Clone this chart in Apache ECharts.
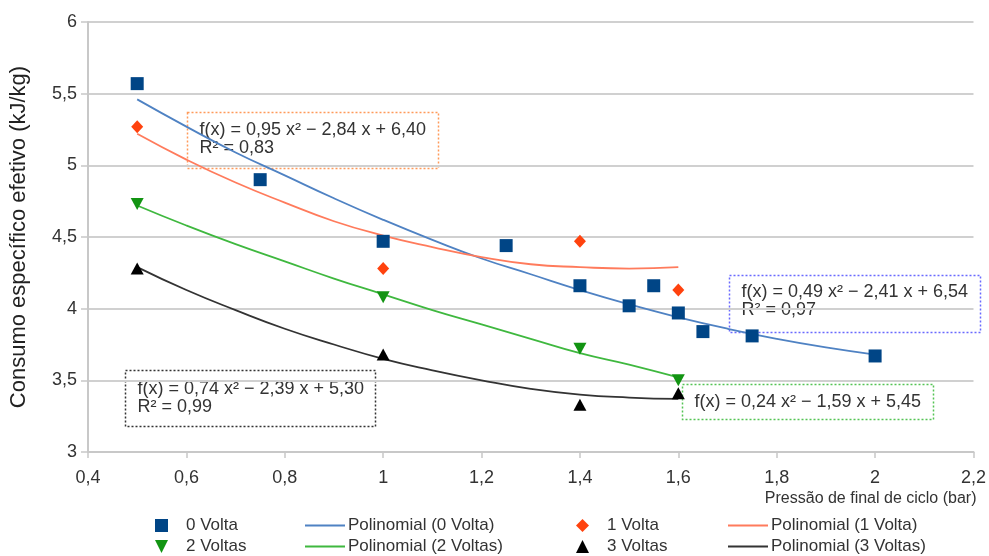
<!DOCTYPE html>
<html>
<head>
<meta charset="utf-8">
<script src="https://cdn.jsdelivr.net/npm/echarts@6/dist/echarts.min.js"></script>
<style>
html,body{margin:0;padding:0;background:#fff;}
#chart{width:989px;height:556px;}
</style>
</head>
<body>
<div id="chart"></div>
<script>
// Measured points (x = Pressão de final de ciclo, y = consumo)
const volta0 = [[0.5,5.57],[0.75,4.90],[1.0,4.47],[1.25,4.44],[1.4,4.16],[1.5,4.02],[1.55,4.16],[1.6,3.97],[1.65,3.84],[1.75,3.81],[2.0,3.67]];
const volta1 = [[0.5,5.27],[1.0,4.28],[1.4,4.47],[1.6,4.13]];
const volta2 = [[0.5,4.73],[1.0,4.08],[1.4,3.72],[1.6,3.50]];
const volta3 = [[0.5,4.28],[1.0,3.68],[1.4,3.33],[1.6,3.41]];

// Trend lines
const trend0 = [[0.5,5.46],[0.6,5.27],[0.7,5.09],[0.8,4.93],[0.9,4.77],[1.0,4.62],[1.1,4.48],[1.2,4.35],[1.3,4.24],[1.4,4.13],[1.5,4.03],[1.6,3.94],[1.7,3.86],[1.8,3.79],[1.9,3.73],[2.0,3.68]];
const trend1 = [[0.5,5.22],[0.6,5.04],[0.7,4.88],[0.8,4.74],[0.9,4.61],[1.0,4.51],[1.1,4.43],[1.2,4.36],[1.3,4.31],[1.4,4.29],[1.5,4.28],[1.6,4.29]];
const trend2 = [[0.5,4.72],[0.6,4.58],[0.7,4.45],[0.8,4.33],[0.9,4.21],[1.0,4.10],[1.1,3.99],[1.2,3.89],[1.3,3.79],[1.4,3.69],[1.5,3.61],[1.6,3.52]];
const trend3 = [[0.5,4.29],[0.6,4.13],[0.7,3.99],[0.8,3.86],[0.9,3.75],[1.0,3.65],[1.1,3.57],[1.2,3.50],[1.3,3.44],[1.4,3.40],[1.5,3.38],[1.6,3.37]];

const seriesNames = ['0 Volta','1 Volta','2 Voltas','3 Voltas'];
const trendNames = ['Polinomial (0 Volta)','Polinomial (1 Volta)','Polinomial (2 Voltas)','Polinomial (3 Voltas)'];
const equations = [
  'f(x) = 0,49 x² − 2,41 x + 6,54\nR² = 0,97',
  'f(x) = 0,95 x² − 2,84 x + 6,40\nR² = 0,83',
  'f(x) = 0,24 x² − 1,59 x + 5,45',
  'f(x) = 0,74 x² − 2,39 x + 5,30\nR² = 0,99'
];
const xTitle = 'Pressão de final de ciclo (bar)';
const yTitle = 'Consumo específico efetivo (kJ/kg)';

const FONT = 'Liberation Sans, Arial, sans-serif';
const comma = v => String(+v.toFixed(2)).replace('.', ',');

const chart = echarts.init(document.getElementById('chart'), null, {renderer:'canvas'});

function eqBox(x, y, w, h, color, text, ty) {
  return {
    type: 'group', left: x, top: y, z: 50,
    children: [
      {type:'rect', shape:{x:0,y:0,width:w,height:h},
       style:{fill:'none', stroke:color, lineWidth:1.5, lineDash:[2,2]}},
      {type:'text', x: 12, y: ty,
       style:{text:text, fill:'#333', font:'18px ' + FONT, lineHeight:18}}
    ]
  };
}

const DOWN_TRI = 'path://M0,0L12,0L6,12Z';
const LEG_TXT = {fontFamily:FONT, fontSize:17, color:'#333'};

function symLegend(left, names, icons) {
  return {orient:'vertical', left:left, top:517, padding:0, itemGap:4,
    itemWidth:13, itemHeight:13,
    data: names.map((n,i)=>({name:n, icon:icons[i]})),
    textStyle:Object.assign({padding:[0,0,0,13]}, LEG_TXT)};
}
function lineLegend(left, names) {
  return {orient:'vertical', left:left, top:517, padding:0, itemGap:4,
    itemWidth:40, itemHeight:2,
    data: names.map(n=>({name:n, icon:'rect'})),
    textStyle:Object.assign({padding:[0,0,0,-2]}, LEG_TXT)};
}

chart.setOption({
  animation:false,
  backgroundColor:'#fff',
  textStyle:{fontFamily:FONT},
  grid:{left:88, right:14, top:22, bottom:104, containLabel:false},
  xAxis:{
    type:'value', min:0.4, max:2.2, interval:0.2,
    name: xTitle, nameLocation:'end', nameGap:3,
    nameTextStyle:{align:'right', verticalAlign:'top', padding:[39,0,0,0], fontSize:16, color:'#333', fontFamily:FONT},
    axisLine:{show:true, lineStyle:{color:'#c8c8c8', width:2}},
    axisTick:{show:true, length:6, lineStyle:{color:'#c8c8c8', width:1.5}},
    axisLabel:{formatter:comma, color:'#333', fontSize:18, margin:17, fontFamily:FONT},
    splitLine:{show:false}
  },
  yAxis:{
    type:'value', min:3, max:6, interval:0.5,
    name: yTitle, nameLocation:'middle', nameGap:58,
    nameTextStyle:{fontSize:22, color:'#222', fontFamily:FONT},
    axisLine:{show:true, lineStyle:{color:'#c8c8c8', width:2}},
    axisTick:{show:true, length:7, lineStyle:{color:'#c8c8c8', width:1.5}},
    axisLabel:{formatter:comma, color:'#333', fontSize:18, margin:11, fontFamily:FONT},
    splitLine:{show:true, lineStyle:{color:'#d0d0d0', width:2}}
  },
  legend:[
    symLegend(155, [seriesNames[0], seriesNames[2]], ['rect', DOWN_TRI]),
    lineLegend(305, [trendNames[0], trendNames[2]]),
    symLegend(576, [seriesNames[1], seriesNames[3]], ['diamond', 'triangle']),
    lineLegend(728, [trendNames[1], trendNames[3]])
  ],
  series:[
    {name:trendNames[0], type:'line', data:trend0, smooth:true, showSymbol:false, symbol:'none',
     lineStyle:{color:'#4f82c3', width:1.8}, itemStyle:{color:'#4f82c3'}, z:2},
    {name:trendNames[1], type:'line', data:trend1, smooth:true, showSymbol:false, symbol:'none',
     lineStyle:{color:'#ff7b5c', width:1.8}, itemStyle:{color:'#ff7b5c'}, z:2},
    {name:trendNames[2], type:'line', data:trend2, smooth:true, showSymbol:false, symbol:'none',
     lineStyle:{color:'#3fb83f', width:1.8}, itemStyle:{color:'#3fb83f'}, z:2},
    {name:trendNames[3], type:'line', data:trend3, smooth:true, showSymbol:false, symbol:'none',
     lineStyle:{color:'#333333', width:1.8}, itemStyle:{color:'#333333'}, z:2},
    {name:seriesNames[0], type:'scatter', data:volta0, symbol:'rect', symbolSize:13,
     itemStyle:{color:'#004586', opacity:1}, z:5},
    {name:seriesNames[1], type:'scatter', data:volta1, symbol:'diamond', symbolSize:[12,13],
     itemStyle:{color:'#ff420e', opacity:1}, z:5},
    {name:seriesNames[2], type:'scatter', data:volta2, symbol:'triangle', symbolRotate:180, symbolSize:[13,12],
     itemStyle:{color:'#129412', opacity:1}, z:5},
    {name:seriesNames[3], type:'scatter', data:volta3, symbol:'triangle', symbolSize:[13,12],
     itemStyle:{color:'#000000', opacity:1}, z:5}
  ],
  graphic:[
    eqBox(185, 110, 251, 56, '#ff9a5a', equations[1], 9),
    eqBox(727, 273, 251, 57, '#6a6aff', equations[0], 8),
    eqBox(123, 368, 250, 56, '#333333', equations[3], 10),
    eqBox(680, 382, 251, 35, '#55c455', equations[2], 9)
  ]
});
</script>
</body>
</html>
